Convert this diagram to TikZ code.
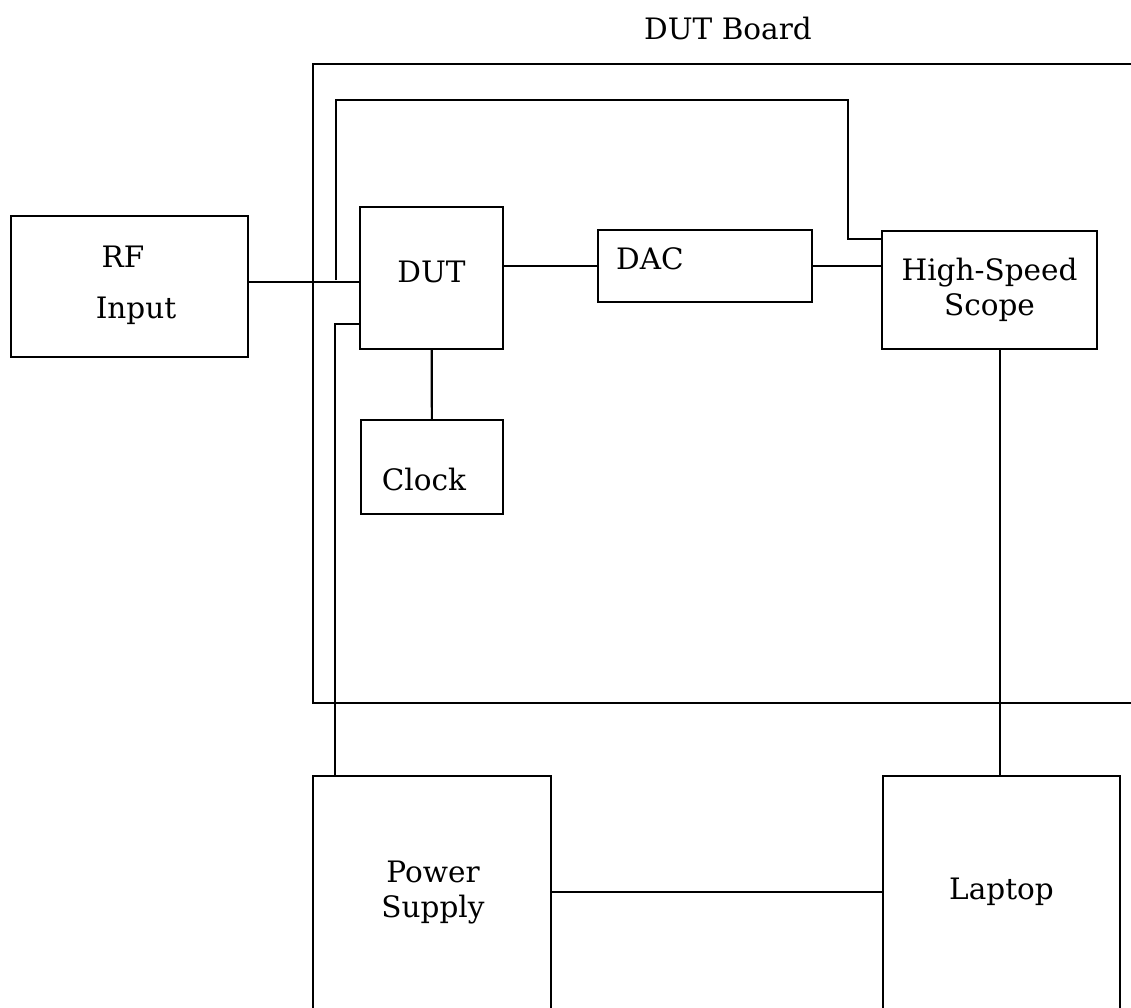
\documentclass[tikz,border=0pt]{standalone}
\usepackage{fontspec}
\setmainfont{DejaVu Serif}
\usetikzlibrary{positioning}

\begin{document}
\begin{tikzpicture}[x=1pt,y=-1pt,
  font=\fontsize{29.5}{35.4}\selectfont,
  box/.style={draw,line width=2.2pt,inner sep=0pt},
  wire/.style={line width=2.2pt}]
\useasboundingbox (0,0) rectangle (1131,1008);
\clip (0,0) rectangle (1131,1008);
% board and title
\node[box,minimum width=870,minimum height=639] (board) at (748,383.5) {};
\node (title) at (728,29) {DUT Board};
% blocks
\node[box,minimum width=237,minimum height=141,
  label={[xshift=-6.5pt,yshift=29.5pt]center:RF},
  label={[xshift=6.5pt,yshift=-24pt]center:Input}] (rf) at (129.5,286.5) {};
\node[box,minimum width=143,minimum height=142,
  label={[yshift=6pt]center:DUT}] (dut) at (431.5,278) {};
\node[box,minimum width=142,minimum height=94,
  label={[xshift=-8pt,yshift=-12pt]center:Clock}] (clock) at (432,467) {};
\node[box,minimum width=214,minimum height=72,
  label={[xshift=-55pt,yshift=7.5pt]center:DAC}] (dac) at (705,266) {};
\node[box,minimum width=215,minimum height=118,align=center] (scope) at (989.5,290) {High-Speed\\Scope};
\node[box,minimum width=238,minimum height=264,
  label={[align=center,xshift=1pt,yshift=15.5pt]center:Power\\Supply}] (psu) at (432,908) {};
\node[box,minimum width=237,minimum height=264,
  label={[yshift=16.5pt]center:Laptop}] (laptop) at (1001.5,908) {};
% connections
\coordinate (tap) at (336,280);
\coordinate (loop) at (848,100);
\draw[wire] ([yshift=4.5pt]rf.east) -- ([yshift=4.5pt]rf.east -| dut.west);
\draw[wire] (tap) |- (loop) |- ([yshift=51pt]scope.west);
\draw[wire] ([yshift=-46pt]dut.west) -| ([xshift=23pt]psu.north west);
\draw[wire] (dut) -- (clock);
\draw[wire] ([yshift=12pt]dut.east) -- (dac.west);
\draw[wire] (dac.east) -- (dac.east -| scope.west);
\draw[wire] ([xshift=10.5pt]scope.south) -- ([xshift=10.5pt]scope.south |- laptop.north);
\draw[wire] ([yshift=16pt]psu.east) -- ([yshift=16pt]psu.east -| laptop.west);
\end{tikzpicture}
\end{document}
